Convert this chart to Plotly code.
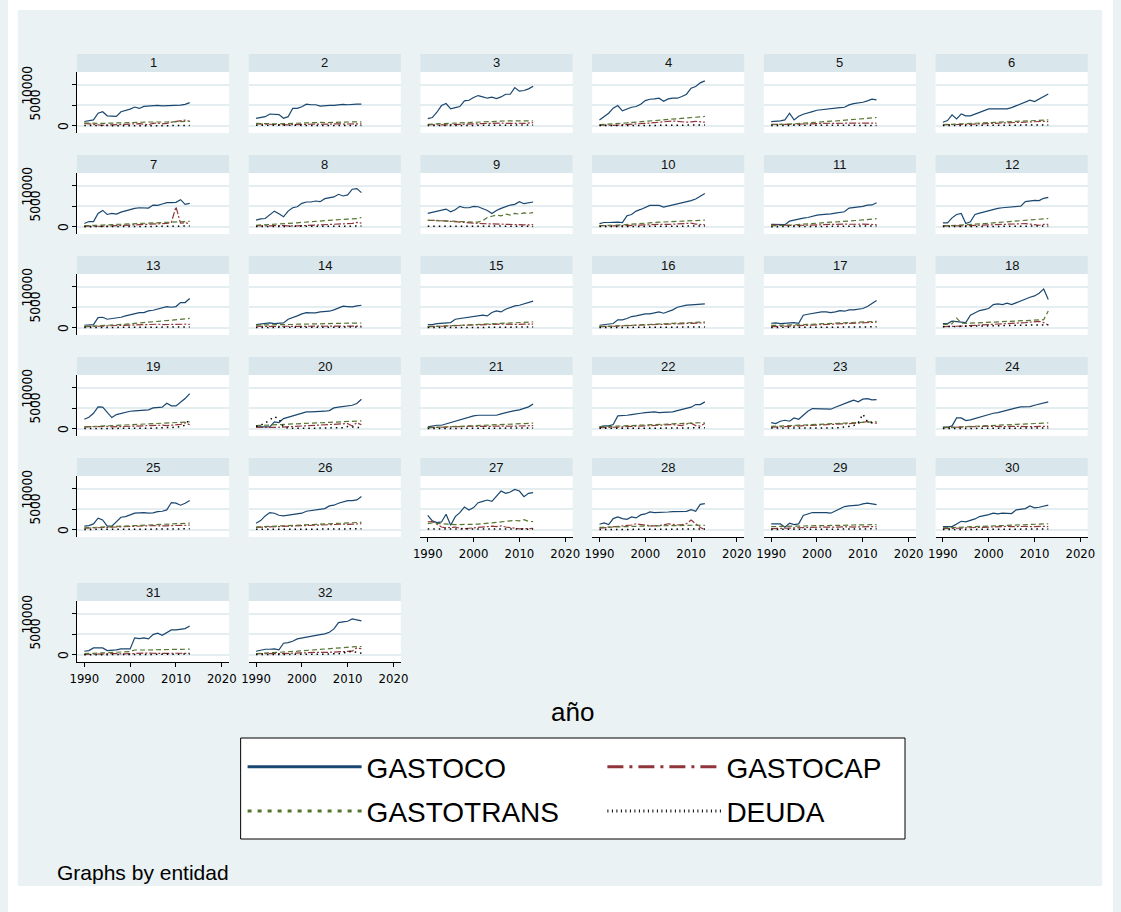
import plotly.graph_objects as go

# ---------------------------------------------------------------------------
# Data: spending series by entidad (1..32), yearly 1990-2013
# ---------------------------------------------------------------------------
YEARS = list(range(1990, 2014))
X_TICKS = [1990, 2000, 2010, 2020]
Y_TICKS = [0, 5000, 10000]
Y_TICK_TEXT = ["0", "5000", "10000"]

GASTOCO = {
    1: [1070, 1230, 1480, 3100, 3440, 2460, 2300, 2300, 3440, 3700, 4100, 4600, 4260, 4760, 4900, 4900, 5000, 4900, 4900, 5080, 5080, 5080, 5250, 5660],
    2: [1850, 2100, 2250, 2900, 2900, 2750, 1850, 2250, 4270, 4270, 4680, 5300, 5160, 5160, 4840, 5000, 5000, 5000, 5160, 5240, 5160, 5300, 5300, 5300],
    3: [1790, 2030, 3330, 4960, 5450, 4150, 4470, 4720, 6100, 6260, 6910, 7400, 7070, 6750, 6990, 6670, 7070, 7720, 7720, 9350, 8460, 8620, 9030, 9680],
    4: [1460, 2280, 3090, 4310, 4960, 3660, 4070, 4550, 4720, 5280, 6180, 6500, 6580, 6750, 6020, 6580, 6750, 6750, 7150, 7720, 9190, 9600, 10490, 10980],
    5: [1060, 1060, 1220, 1460, 3090, 1460, 2360, 2850, 3250, 3500, 3820, 3980, 4150, 4230, 4310, 4470, 4550, 5120, 5450, 5530, 5770, 6100, 6500, 6340],
    6: [900, 1300, 2680, 1710, 2930, 2440, 2440, 2850, 3420, 3660, 4150, 4150, 4150, 4150, 4150, 4470, 4960, 5370, 5770, 6260, 5940, 6500, 7070, 7800],
    7: [820, 1310, 1310, 3280, 4020, 3030, 3280, 3110, 3610, 3940, 4180, 4510, 4670, 4670, 4590, 5330, 5250, 5580, 5900, 5900, 5990, 6640, 5490, 5740],
    8: [1640, 1970, 2050, 2950, 3850, 3200, 2460, 3850, 4670, 4920, 5740, 6070, 6070, 6310, 6150, 6890, 7130, 7300, 7950, 7540, 7790, 9180, 9350, 8360],
    9: [3280, 3530, 3850, 4100, 4350, 3690, 4180, 5000, 4670, 4670, 5000, 4920, 4510, 4020, 3280, 4020, 4510, 5000, 5330, 5490, 6150, 5660, 5900, 6070],
    10: [820, 1070, 1070, 1150, 1150, 1070, 2710, 3030, 3850, 4260, 4840, 5250, 5250, 5250, 4840, 5080, 5250, 5490, 5820, 6150, 6400, 6810, 7460, 8120],
    11: [600, 600, 600, 550, 1400, 1650, 2050, 2150, 2300, 2600, 2850, 3000, 3050, 3200, 3350, 3500, 3700, 4600, 4700, 4800, 5000, 5300, 5350, 5900],
    12: [980, 980, 2210, 3030, 3280, 820, 1230, 3030, 3360, 3690, 3940, 4350, 4510, 4670, 4760, 4840, 4840, 5080, 6150, 6400, 6480, 6400, 6970, 7220],
    13: [650, 650, 810, 2520, 2600, 2110, 2280, 2280, 2600, 2930, 3250, 3500, 3740, 3740, 4150, 4310, 4550, 4880, 5200, 5040, 5200, 6180, 6180, 7150],
    14: [810, 890, 980, 1220, 1060, 1060, 1220, 2110, 2440, 2930, 3410, 3740, 3660, 3660, 3900, 3900, 4070, 4390, 4880, 5290, 5200, 5120, 5370, 5530],
    15: [810, 810, 1060, 1140, 1140, 1300, 2110, 2280, 2440, 2600, 2850, 3010, 3090, 2930, 3740, 4150, 3900, 4550, 5040, 5370, 5530, 5850, 6100, 6510],
    16: [650, 730, 890, 1060, 1950, 1950, 2280, 2770, 2930, 3170, 3410, 3410, 3580, 3900, 3580, 3900, 4390, 5040, 5370, 5530, 5610, 5690, 5770, 5850],
    17: [1140, 1220, 1060, 1140, 1220, 1300, 1140, 3090, 3330, 3580, 3820, 3900, 3900, 3740, 3900, 4230, 4070, 4390, 4390, 4550, 4720, 5200, 5850, 6670],
    18: [1060, 1060, 1630, 1460, 1300, 1300, 3090, 3740, 4230, 4470, 4720, 5690, 5850, 5690, 6020, 5690, 6180, 6670, 7150, 7480, 7800, 8460, 9500, 6900],
    19: [2360, 2850, 3820, 5370, 5290, 3980, 2770, 3500, 3820, 4070, 4310, 4390, 4470, 4470, 4640, 5120, 5290, 5290, 6260, 5610, 5610, 6420, 7400, 8620],
    20: [490, 490, 490, 490, 1710, 1550, 2520, 2850, 3330, 3500, 3820, 4150, 4150, 4150, 4310, 4310, 4470, 5120, 5290, 5450, 5610, 5770, 6180, 7240],
    21: [490, 730, 890, 890, 1220, 1550, 1870, 2200, 2520, 2770, 3170, 3330, 3330, 3500, 3500, 3330, 3660, 3980, 4150, 4470, 4640, 4960, 5370, 6100],
    22: [490, 730, 730, 1060, 3170, 3170, 3330, 3500, 3580, 3820, 3980, 4150, 4150, 3980, 3980, 3980, 4150, 4470, 4800, 4960, 5290, 5940, 5940, 6590],
    23: [1550, 1300, 1870, 2110, 1870, 2680, 2360, 3330, 4310, 4960, 4960, 4960, 4960, 4800, 5290, 5770, 6260, 6590, 6990, 6590, 7240, 7400, 7070, 7150],
    24: [410, 410, 730, 2680, 2680, 2030, 2200, 2520, 2930, 3330, 3660, 3820, 3980, 4310, 4550, 4800, 5120, 5370, 5450, 5450, 5770, 6100, 6420, 6590],
    25: [900, 1060, 1460, 2850, 2440, 900, 900, 2110, 3090, 3250, 3740, 4070, 4150, 4230, 4070, 4150, 4470, 4550, 4880, 6670, 6510, 6020, 6510, 7150],
    26: [1630, 2280, 3410, 4230, 4070, 3580, 3410, 3580, 3740, 3900, 4070, 4550, 4720, 4720, 5040, 5200, 5850, 6020, 6510, 6830, 7150, 7150, 7320, 8130],
    27: [3560, 2190, 1780, 1940, 3800, 1130, 3240, 4210, 5590, 4860, 5430, 6640, 6970, 7290, 6970, 8260, 9480, 8910, 9230, 9880, 9480, 8100, 8910, 9070],
    28: [1380, 1700, 1300, 2750, 3160, 2750, 2590, 3160, 2920, 3650, 3890, 4370, 4210, 4210, 4370, 4370, 4450, 4540, 4540, 4540, 4940, 4540, 6240, 6400],
    29: [1460, 1460, 1460, 650, 1630, 1300, 1460, 3500, 3900, 4230, 4230, 4310, 4230, 4070, 4550, 5040, 5690, 5850, 5940, 6020, 6340, 6510, 6340, 6180],
    30: [810, 810, 810, 1460, 2110, 1950, 2280, 2680, 3250, 3410, 3740, 4070, 3900, 4070, 4070, 3980, 4880, 5040, 5200, 5850, 5370, 5530, 5690, 6020],
    31: [890, 1060, 1710, 1710, 1710, 1060, 1060, 1220, 1460, 1460, 1460, 4150, 3980, 4150, 3900, 4960, 5290, 4800, 5450, 6100, 6100, 6260, 6420, 7070],
    32: [890, 1220, 1380, 1380, 1460, 1220, 2850, 3010, 3330, 3900, 4150, 4310, 4630, 4800, 4960, 5120, 5530, 6340, 7890, 8050, 8210, 8780, 8540, 8290],
}

GASTOCAP = {
    1: [600, 500, 300, 200, 150, 200, 250, 300, 350, 400, 450, 500, 550, 400, 300, 600, 700, 500, 600, 900, 1100, 1200, 1400, 1100],
    2: [500, 450, 400, 350, 300, 300, 250, 250, 300, 350, 350, 400, 400, 450, 400, 450, 500, 450, 500, 450, 500, 500, 550, 500],
    3: [300, 250, 200, 200, 250, 300, 350, 300, 300, 350, 400, 450, 500, 550, 600, 650, 700, 600, 650, 700, 650, 600, 700, 800],
    4: [200, 150, 100, 150, 200, 250, 300, 350, 400, 500, 600, 700, 800, 900, 1000, 1100, 1200, 1100, 1000, 900, 1000, 1100, 1000, 900],
    5: [400, 350, 300, 300, 350, 400, 450, 500, 500, 550, 600, 650, 700, 650, 600, 650, 700, 750, 700, 650, 700, 750, 700, 650],
    6: [300, 300, 250, 250, 300, 350, 400, 450, 500, 550, 600, 650, 700, 750, 800, 850, 900, 950, 1000, 1050, 1100, 1150, 1100, 1050],
    7: [200, 150, 100, 100, 150, 200, 250, 300, 350, 400, 450, 500, 550, 600, 650, 700, 750, 800, 850, 1100, 4900, 900, 1000, 800],
    8: [300, 250, 200, 250, 300, 350, 300, 250, 200, 250, 300, 350, 400, 450, 500, 550, 600, 650, 700, 750, 800, 850, 1100, 900],
    9: [1600, 1650, 1600, 1500, 1400, 1300, 1200, 1100, 1000, 950, 900, 850, 800, 750, 700, 700, 650, 650, 600, 600, 550, 500, 500, 550],
    10: [300, 250, 200, 200, 250, 300, 350, 400, 450, 500, 550, 600, 650, 700, 650, 600, 650, 700, 750, 800, 900, 700, 600, 500],
    11: [500, 450, 400, 350, 300, 300, 350, 400, 450, 500, 550, 600, 600, 650, 650, 700, 700, 650, 600, 650, 700, 650, 600, 550],
    12: [300, 250, 200, 200, 250, 300, 350, 400, 450, 500, 550, 600, 650, 700, 750, 800, 850, 900, 800, 700, 500, 400, 600, 650],
    13: [300, 300, 350, 400, 450, 500, 550, 600, 650, 700, 750, 800, 850, 900, 950, 1000, 900, 800, 850, 900, 950, 1000, 900, 850],
    14: [400, 350, 300, 300, 350, 400, 450, 400, 350, 300, 350, 400, 450, 500, 450, 400, 450, 500, 450, 400, 450, 500, 450, 400],
    15: [300, 300, 350, 400, 450, 500, 550, 600, 650, 700, 750, 800, 850, 900, 950, 1000, 950, 900, 850, 800, 850, 900, 950, 900],
    16: [300, 300, 350, 400, 450, 500, 550, 600, 650, 700, 750, 800, 850, 900, 950, 1000, 1050, 1100, 1150, 1200, 1250, 1200, 1300, 1250],
    17: [300, 300, 350, 400, 450, 500, 550, 600, 650, 700, 750, 800, 850, 900, 950, 1000, 1050, 1100, 1150, 1200, 1300, 1400, 1500, 1400],
    18: [300, 300, 350, 400, 450, 500, 550, 600, 650, 700, 750, 800, 850, 900, 950, 1000, 1100, 1200, 1300, 1400, 1500, 1600, 1300, 700],
    19: [500, 550, 600, 650, 700, 600, 500, 550, 600, 650, 700, 750, 800, 850, 900, 950, 1000, 900, 800, 900, 1000, 1100, 1500, 1000],
    20: [400, 350, 300, 300, 350, 400, 450, 500, 550, 600, 650, 700, 750, 800, 850, 900, 950, 1000, 1050, 1100, 1300, 700, 1500, 1000],
    21: [300, 300, 350, 400, 450, 500, 550, 600, 650, 700, 650, 600, 550, 600, 650, 700, 750, 700, 650, 700, 750, 800, 850, 800],
    22: [300, 300, 350, 400, 450, 500, 550, 600, 650, 700, 750, 800, 850, 900, 950, 1000, 1050, 900, 800, 1200, 1400, 800, 700, 1300],
    23: [400, 450, 500, 550, 600, 650, 700, 750, 800, 850, 900, 950, 1000, 1050, 1100, 1150, 1200, 1250, 1300, 1400, 1600, 1800, 1500, 1400],
    24: [300, 300, 350, 400, 450, 500, 550, 600, 650, 700, 650, 600, 550, 500, 550, 600, 650, 600, 550, 500, 550, 600, 650, 600],
    25: [400, 450, 500, 550, 600, 650, 700, 750, 800, 850, 900, 950, 1000, 1050, 1100, 1050, 1000, 950, 1000, 1050, 1100, 1150, 1200, 1150],
    26: [600, 650, 700, 700, 750, 800, 850, 900, 950, 1000, 1050, 1100, 1150, 1200, 1250, 1300, 1350, 1400, 1450, 1400, 1350, 1400, 1450, 1500],
    27: [1950, 2050, 1400, 700, 500, 600, 700, 400, 300, 400, 500, 600, 700, 800, 900, 800, 1000, 700, 500, 300, 250, 300, 300, 350],
    28: [400, 500, 600, 700, 800, 900, 1000, 1200, 1500, 1300, 1100, 1000, 1000, 1100, 1200, 1500, 1300, 1200, 1300, 1500, 2400, 1600, 600, 100],
    29: [300, 300, 350, 400, 450, 500, 550, 600, 650, 700, 750, 800, 700, 650, 700, 750, 800, 750, 700, 750, 800, 850, 800, 750],
    30: [300, 300, 350, 400, 450, 500, 550, 600, 650, 700, 750, 800, 850, 900, 850, 800, 850, 900, 850, 800, 850, 900, 850, 800],
    31: [100, 100, 150, 200, 250, 300, 350, 300, 250, 300, 350, 400, 450, 500, 450, 400, 350, 300, 350, 400, 450, 400, 350, 400],
    32: [300, 350, 400, 400, 350, 300, 350, 400, 450, 500, 550, 600, 650, 700, 650, 600, 650, 700, 750, 800, 800, 900, 1700, 1500],
}

GASTOTRANS = {
    1: [700, 650, 600, 550, 600, 650, 700, 750, 800, 800, 850, 850, 900, 900, 950, 950, 900, 950, 950, 1000, 1000, 1050, 1050, 1100],
    2: [600, 550, 500, 450, 450, 500, 550, 600, 650, 700, 750, 800, 800, 850, 850, 800, 850, 900, 900, 900, 950, 950, 1000, 1000],
    3: [400, 450, 500, 600, 700, 750, 800, 850, 900, 900, 950, 1000, 1050, 1100, 1100, 1150, 1200, 1200, 1250, 1200, 1250, 1300, 1250, 1200],
    4: [300, 350, 450, 550, 650, 700, 750, 850, 950, 1050, 1150, 1250, 1350, 1400, 1500, 1600, 1700, 1800, 1900, 2000, 2100, 2200, 2300, 2300],
    5: [300, 300, 350, 400, 450, 500, 600, 700, 800, 900, 1000, 1050, 1100, 1150, 1200, 1300, 1400, 1500, 1600, 1700, 1800, 1900, 2000, 2050],
    6: [300, 350, 400, 450, 500, 550, 600, 650, 700, 750, 800, 850, 900, 950, 1000, 1050, 1100, 1150, 1200, 1250, 1300, 1350, 1400, 1450],
    7: [300, 300, 350, 400, 450, 500, 550, 600, 650, 700, 750, 800, 850, 900, 950, 1000, 1050, 1100, 1150, 1200, 1250, 1300, 1300, 1350],
    8: [400, 450, 500, 550, 600, 650, 700, 800, 900, 1000, 1100, 1200, 1300, 1400, 1500, 1600, 1700, 1750, 1800, 1850, 1900, 1950, 2000, 2300],
    9: [1600, 1550, 1500, 1450, 1400, 1350, 1300, 1250, 1200, 1150, 1100, 1150, 1500, 2300, 2600, 2900, 2700, 3100, 2900, 3300, 3100, 3400, 3300, 3500],
    10: [300, 300, 350, 400, 450, 500, 600, 700, 800, 900, 1000, 1050, 1100, 1150, 1200, 1250, 1300, 1350, 1400, 1450, 1500, 1550, 1600, 1650],
    11: [300, 300, 300, 350, 400, 500, 600, 700, 800, 900, 1000, 1050, 1100, 1150, 1200, 1250, 1300, 1400, 1500, 1600, 1700, 1800, 1900, 2000],
    12: [200, 250, 300, 350, 400, 450, 500, 600, 700, 800, 900, 1000, 1100, 1200, 1300, 1400, 1500, 1600, 1700, 1800, 1900, 2000, 2100, 2050],
    13: [300, 350, 400, 450, 500, 550, 600, 700, 800, 900, 1000, 1100, 1200, 1300, 1400, 1500, 1600, 1700, 1800, 1900, 2000, 2100, 2200, 2300],
    14: [700, 700, 700, 750, 750, 800, 800, 850, 850, 900, 900, 950, 950, 1000, 1000, 1050, 1050, 1100, 1100, 1150, 1150, 1200, 1200, 1200],
    15: [300, 350, 400, 450, 500, 550, 600, 650, 700, 750, 800, 850, 900, 950, 1000, 1050, 1100, 1150, 1200, 1250, 1300, 1350, 1400, 1450],
    16: [300, 350, 400, 450, 500, 550, 600, 650, 700, 750, 800, 850, 900, 950, 1000, 1050, 1100, 1150, 1200, 1250, 1300, 1350, 1400, 1450],
    17: [600, 600, 650, 650, 700, 700, 750, 800, 850, 900, 950, 1000, 1050, 1100, 1150, 1200, 1250, 1300, 1350, 1400, 1450, 1500, 1550, 1600],
    18: [800, 900, 1000, 2400, 1200, 1100, 1150, 1200, 1250, 1300, 1350, 1400, 1450, 1500, 1550, 1600, 1650, 1700, 1750, 1800, 1850, 1900, 2000, 4100],
    19: [500, 550, 600, 650, 700, 750, 800, 850, 900, 950, 1000, 1050, 1100, 1150, 1200, 1250, 1300, 1350, 1400, 1450, 1500, 1550, 1600, 1700],
    20: [800, 850, 900, 950, 1000, 1050, 1100, 1150, 1200, 1250, 1300, 1350, 1400, 1450, 1500, 1550, 1600, 1650, 1700, 1750, 1800, 1850, 1900, 1950],
    21: [300, 350, 400, 450, 500, 550, 600, 650, 700, 750, 800, 850, 900, 950, 1000, 1050, 1100, 1150, 1200, 1250, 1300, 1350, 1400, 1400],
    22: [500, 550, 600, 650, 700, 750, 800, 850, 900, 950, 1000, 1050, 1100, 1150, 1200, 1250, 1300, 1350, 1400, 1450, 1500, 1550, 1500, 1450],
    23: [600, 650, 700, 750, 800, 850, 900, 950, 1000, 1050, 1100, 1150, 1200, 1250, 1300, 1350, 1400, 1450, 1500, 1550, 1600, 1650, 1700, 1750],
    24: [300, 350, 400, 450, 500, 550, 600, 650, 700, 750, 800, 850, 900, 950, 1000, 1050, 1100, 1150, 1200, 1250, 1300, 1350, 1400, 1450],
    25: [500, 550, 600, 650, 700, 750, 800, 850, 900, 950, 1000, 1050, 1100, 1150, 1200, 1250, 1300, 1350, 1400, 1450, 1500, 1550, 1600, 1650],
    26: [700, 750, 800, 850, 900, 950, 1000, 1050, 1100, 1150, 1200, 1250, 1300, 1350, 1400, 1450, 1500, 1550, 1600, 1650, 1700, 1750, 1800, 1850],
    27: [1500, 1700, 1600, 1500, 1400, 1300, 1300, 1300, 1300, 1350, 1400, 1400, 1500, 1600, 1700, 1900, 2000, 2000, 2100, 2300, 2200, 2500, 2100, 2000],
    28: [600, 650, 700, 750, 800, 800, 850, 850, 900, 900, 950, 950, 1000, 1000, 1000, 1050, 1050, 1050, 1100, 1100, 1100, 1150, 1100, 1100],
    29: [800, 800, 850, 850, 900, 900, 950, 950, 1000, 1000, 1050, 1050, 1100, 1100, 1100, 1150, 1150, 1150, 1200, 1200, 1200, 1250, 1250, 1300],
    30: [500, 550, 600, 650, 700, 750, 800, 850, 900, 950, 1000, 1050, 1100, 1150, 1200, 1250, 1300, 1350, 1400, 1450, 1500, 1500, 1450, 1500],
    31: [300, 350, 400, 450, 500, 550, 600, 650, 700, 750, 800, 1200, 1150, 1200, 1200, 1250, 1250, 1300, 1300, 1350, 1350, 1350, 1400, 1400],
    32: [300, 350, 400, 450, 500, 550, 600, 700, 800, 900, 1000, 1100, 1200, 1300, 1400, 1500, 1600, 1700, 1800, 1850, 1900, 1950, 2000, 2050],
}

DEUDA = {
    1: [100, 80, 60, 50, 40, 50, 60, 70, 80, 60, 50, 40, 30, 40, 50, 60, 70, 80, 90, 100, 110, 120, 100, 90],
    2: [150, 140, 130, 120, 110, 100, 90, 80, 70, 80, 90, 100, 110, 120, 130, 140, 150, 160, 150, 140, 130, 120, 110, 100],
    3: [100, 90, 80, 70, 60, 50, 60, 70, 80, 90, 100, 110, 120, 130, 140, 150, 160, 170, 180, 190, 200, 210, 220, 230],
    4: [80, 70, 60, 50, 40, 50, 60, 70, 80, 90, 100, 110, 120, 130, 140, 150, 160, 170, 180, 190, 200, 210, 220, 230],
    5: [120, 110, 100, 90, 80, 70, 60, 70, 80, 90, 100, 110, 120, 130, 140, 150, 160, 150, 140, 130, 120, 110, 100, 90],
    6: [100, 90, 80, 70, 60, 70, 80, 90, 100, 110, 120, 130, 140, 150, 160, 170, 180, 190, 200, 210, 220, 230, 240, 250],
    7: [60, 50, 40, 30, 20, 30, 40, 50, 60, 70, 80, 90, 100, 110, 120, 130, 140, 150, 160, 170, 180, 190, 200, 210],
    8: [120, 110, 100, 90, 80, 70, 60, 50, 60, 70, 80, 90, 100, 110, 120, 130, 140, 150, 160, 170, 180, 190, 200, 210],
    9: [150, 140, 130, 120, 110, 100, 110, 120, 130, 140, 150, 160, 170, 180, 190, 200, 190, 180, 170, 160, 150, 140, 130, 120],
    10: [100, 90, 80, 70, 60, 50, 60, 70, 80, 90, 100, 110, 120, 130, 140, 150, 160, 170, 180, 190, 200, 210, 220, 230],
    11: [60, 50, 40, 30, 40, 50, 60, 70, 80, 90, 100, 110, 120, 130, 140, 150, 160, 170, 180, 190, 200, 210, 220, 230],
    12: [80, 70, 60, 50, 40, 50, 60, 70, 80, 90, 100, 110, 120, 130, 140, 150, 160, 170, 180, 190, 200, 210, 220, 230],
    13: [100, 90, 80, 70, 60, 70, 80, 90, 100, 110, 120, 130, 140, 150, 160, 170, 180, 190, 200, 210, 220, 230, 240, 250],
    14: [120, 110, 100, 90, 80, 70, 60, 70, 80, 90, 100, 110, 120, 130, 140, 150, 160, 170, 180, 190, 200, 210, 220, 230],
    15: [80, 70, 60, 50, 40, 50, 60, 70, 80, 90, 100, 110, 120, 130, 140, 150, 160, 170, 180, 190, 200, 210, 220, 230],
    16: [100, 90, 80, 70, 60, 70, 80, 90, 100, 110, 120, 130, 140, 150, 160, 170, 180, 190, 200, 210, 220, 230, 240, 250],
    17: [120, 110, 100, 90, 80, 90, 100, 110, 120, 130, 140, 150, 160, 170, 180, 190, 200, 210, 220, 230, 240, 250, 260, 270],
    18: [300, 320, 340, 360, 380, 400, 420, 440, 460, 480, 500, 520, 540, 560, 580, 600, 620, 640, 660, 680, 700, 720, 740, 760],
    19: [100, 90, 80, 70, 60, 70, 80, 90, 100, 110, 120, 130, 140, 150, 160, 170, 180, 190, 200, 300, 400, 600, 900, 2500],
    20: [600, 900, 1400, 2300, 3000, 2400, 400, 200, 150, 100, 120, 140, 160, 180, 200, 220, 240, 260, 280, 300, 600, 400, 350, 300],
    21: [100, 90, 80, 70, 60, 70, 80, 90, 100, 110, 120, 130, 140, 150, 160, 170, 180, 190, 200, 210, 220, 230, 240, 250],
    22: [150, 140, 130, 120, 110, 100, 110, 120, 130, 140, 150, 160, 170, 180, 190, 200, 210, 220, 230, 240, 250, 260, 270, 280],
    23: [200, 190, 180, 170, 160, 150, 160, 170, 180, 190, 200, 210, 220, 230, 240, 300, 400, 600, 800, 1500, 3600, 1800, 1500, 1400],
    24: [100, 90, 80, 70, 60, 70, 80, 90, 100, 110, 120, 130, 140, 150, 160, 170, 180, 190, 200, 210, 220, 230, 240, 250],
    25: [120, 110, 100, 90, 80, 90, 100, 110, 120, 130, 140, 150, 160, 170, 180, 190, 200, 210, 220, 230, 240, 250, 260, 270],
    26: [150, 140, 130, 120, 110, 100, 110, 120, 130, 140, 150, 160, 170, 180, 190, 200, 210, 220, 230, 240, 250, 260, 270, 280],
    27: [250, 240, 230, 220, 210, 200, 190, 180, 170, 160, 150, 140, 130, 120, 110, 100, 110, 120, 130, 140, 150, 160, 170, 180],
    28: [100, 90, 80, 70, 60, 70, 80, 90, 100, 110, 120, 130, 140, 150, 160, 170, 180, 190, 200, 210, 220, 230, 240, 250],
    29: [120, 110, 100, 90, 80, 90, 100, 110, 120, 130, 140, 150, 160, 170, 180, 190, 200, 210, 220, 230, 240, 250, 260, 270],
    30: [100, 90, 80, 70, 60, 70, 80, 90, 100, 110, 120, 130, 140, 150, 160, 170, 180, 190, 200, 210, 220, 230, 240, 250],
    31: [40, 30, 20, 10, 20, 30, 40, 50, 60, 70, 80, 90, 100, 110, 120, 130, 140, 150, 160, 170, 180, 190, 200, 210],
    32: [100, 90, 80, 70, 60, 70, 80, 90, 100, 110, 120, 130, 140, 150, 160, 170, 180, 190, 300, 500, 700, 900, 600, 400],
}

# ---------------------------------------------------------------------------
# Styling
# ---------------------------------------------------------------------------
W, H = 1121, 912
SANS = "Liberation Sans, Arial, sans-serif"
NARROW = "Liberation Sans Narrow, Arial Narrow, DejaVu Sans Condensed, Liberation Sans, sans-serif"
REGION_BG = "#eaf2f3"
STRIP_BG = "#d9e6eb"
GRID = "#e4eef1"

# name, data, colour, panel dash, legend dash, legend column
SERIES = [
    ("GASTOCO", GASTOCO, "#1a476f", "solid", "solid", "legend"),
    ("GASTOCAP", GASTOCAP, "#90353b", "7px,2px,2px,2px", "16px,6px,3px,6px", "legend2"),
    ("GASTOTRANS", GASTOTRANS, "#55752f", "5px,3px", "4px,6px", "legend"),
    ("DEUDA", DEUDA, "#000000", "1.5px,4px", "1px,3.5px", "legend2"),
]

# panel grid geometry (pixels)
COL_LEFT0, COL_STEP, PANEL_W = 70.0, 174.2, 154.3
ROW_TOPS = [72, 173, 274, 375, 476, 601]
PANEL_H, STRIP_H = 61.0, 18.0
X_RANGE = [1988.4, 2021.6]
Y_RANGE = [-1730, 13140]
N_PANELS = 32
N_COLS = 6


def fx(px):
    return px / W


def fy(py):
    return 1 - py / H


fig = go.Figure()
shapes = []
annotations = []
layout_axes = {}

# white frame around the graph region
for x0, y0, x1, y1 in [(0, 0, W, 10), (0, 886, W, H), (0, 0, 10, H), (1110, 0, W, H)]:
    shapes.append(dict(type="rect", xref="paper", yref="paper", x0=fx(x0), x1=fx(x1),
                       y0=fy(y1), y1=fy(y0), fillcolor="white", line=dict(width=0), layer="below"))

for n in range(1, N_PANELS + 1):
    idx = n - 1
    row, col = divmod(idx, N_COLS)
    left = COL_LEFT0 + COL_STEP * col
    top = ROW_TOPS[row]
    bottom = top + PANEL_H
    is_bottom = n + N_COLS > N_PANELS
    is_left = col == 0
    sfx = "" if n == 1 else str(n)

    for name, data, color, dash, _, _ in SERIES:
        fig.add_trace(go.Scatter(
            x=YEARS, y=data[n], mode="lines", name=name, showlegend=False,
            line=dict(color=color, width=1.5 if name == "DEUDA" else 1.2, dash=dash),
            xaxis="x" + sfx, yaxis="y" + sfx, hoverinfo="skip",
        ))

    layout_axes["xaxis" + sfx] = dict(
        domain=[fx(left), fx(left + PANEL_W)], anchor="y" + sfx, range=X_RANGE,
        showgrid=False, zeroline=False, tickvals=X_TICKS,
        showticklabels=is_bottom, showline=is_bottom, ticks="outside" if is_bottom else "",
        ticklen=4, tickcolor="black", linecolor="black", linewidth=1,
        tickfont=dict(family=NARROW, size=13, color="black"),
    )
    layout_axes["yaxis" + sfx] = dict(
        domain=[fy(bottom), fy(top)], anchor="x" + sfx, range=Y_RANGE,
        showgrid=True, gridcolor=GRID, gridwidth=1.5, zeroline=False, tickvals=Y_TICKS,
        showticklabels=False, showline=is_left, ticks="outside" if is_left else "",
        ticklen=4, tickcolor="black", linecolor="black", linewidth=1,
    )

    # strip header with the entidad number
    shapes.append(dict(type="rect", xref="paper", yref="paper",
                       x0=fx(left), x1=fx(left + PANEL_W), y0=fy(top), y1=fy(top - STRIP_H),
                       fillcolor=STRIP_BG, line=dict(width=0), layer="below"))
    annotations.append(dict(text=str(n), xref="paper", yref="paper",
                            x=fx(left + PANEL_W / 2), y=fy(top - STRIP_H / 2),
                            xanchor="center", yanchor="middle", showarrow=False,
                            font=dict(family=SANS, size=13, color="#111111")))

    # vertical y tick labels on the first column
    if is_left:
        for val, txt, cx in zip(Y_TICKS, Y_TICK_TEXT, [56, 27.5, 19]):
            annotations.append(dict(text=txt, xref="paper", yref="y" + sfx, x=fx(cx), y=val,
                                    xanchor="center", yanchor="middle", textangle=-90,
                                    showarrow=False,
                                    font=dict(family=NARROW, size=13.5, color="black")))

# legend entries (thicker samples, as in the key)
for i, (name, _, color, _, ldash, lg) in enumerate(SERIES):
    fig.add_trace(go.Scatter(
        x=[None], y=[None], mode="lines", name=name, legend=lg, legendgroup=name,
        line=dict(color=color, width=3, dash=ldash), showlegend=True, hoverinfo="skip",
    ))

# legend frame
shapes.append(dict(type="rect", xref="paper", yref="paper", x0=fx(236), x1=fx(910),
                   y0=fy(839), y1=fy(738), fillcolor="white",
                   line=dict(color="black", width=1), layer="below"))

# axis title and note
annotations.append(dict(text="año", xref="paper", yref="paper", x=fx(573), y=fy(712),
                        xanchor="center", yanchor="middle", showarrow=False,
                        font=dict(family=SANS, size=26, color="black")))
annotations.append(dict(text="Graphs by entidad", xref="paper", yref="paper", x=fx(48), y=fy(872),
                        xanchor="left", yanchor="middle", showarrow=False,
                        font=dict(family=SANS, size=21, color="black")))

legend_common = dict(
    orientation="v", xanchor="left", yanchor="top", itemwidth=114,
    font=dict(family=SANS, size=28, color="black"), bgcolor="rgba(0,0,0,0)",
    borderwidth=0, tracegroupgap=5, itemclick=False, itemdoubleclick=False,
)

fig.update_layout(
    width=W, height=H, margin=dict(l=0, r=0, t=0, b=0),
    paper_bgcolor=REGION_BG, plot_bgcolor="white",
    shapes=shapes, annotations=annotations, showlegend=True,
    legend=dict(x=fx(238), y=fy(742), **legend_common),
    legend2=dict(x=fx(603), y=fy(742), **legend_common),
    **layout_axes,
)

fig.write_html("out.html")
